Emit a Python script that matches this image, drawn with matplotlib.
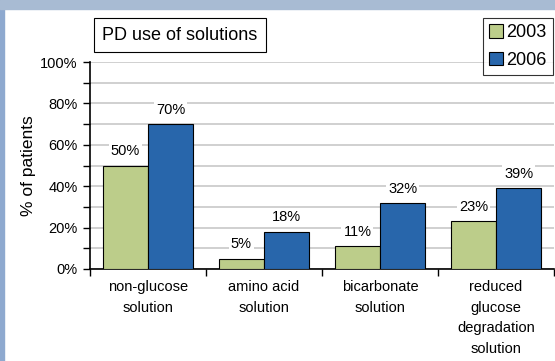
import matplotlib.pyplot as plt
import numpy as np
from matplotlib.patches import Rectangle

categories = ["non-glucose\nsolution", "amino acid\nsolution", "bicarbonate\nsolution",
              "reduced\nglucose\ndegradation\nsolution"]
vals_2003 = [50, 5, 11, 23]
vals_2006 = [70, 18, 32, 39]

green = "#bccd8a"
blue = "#2866ab"

plt.rcParams['font.family'] = ['Liberation Sans', 'DejaVu Sans']

fig = plt.figure(figsize=(5.55, 3.61), dpi=100)
fig.patch.set_facecolor("white")
# bluish frame on the left and top
fig.patches.append(Rectangle((0, 0), 4 / 555, 1, transform=fig.transFigure,
                             color="#8ea9cf", zorder=0))
fig.patches.append(Rectangle((0, 1 - 9 / 361), 1, 9 / 361, transform=fig.transFigure,
                             color="#a8bbd3", zorder=0))

ax = fig.add_axes([90 / 555, 1 - 269 / 361, 464 / 555, 207 / 361])

x = np.arange(len(categories))
w = 0.39
b1 = ax.bar(x - w / 2, vals_2003, w, color=green, edgecolor="black", linewidth=0.8,
            label="2003", zorder=3)
b2 = ax.bar(x + w / 2, vals_2006, w, color=blue, edgecolor="black", linewidth=0.8,
            label="2006", zorder=3)

for bars, vals in ((b1, vals_2003), (b2, vals_2006)):
    for r, v in zip(bars, vals):
        ax.text(r.get_x() + r.get_width() / 2, v + 3.5, f"{v}%", ha="center", va="bottom",
                fontsize=10.5, zorder=4,
                bbox=dict(facecolor="white", edgecolor="none", pad=1.5))

ax.set_xlim(-0.5, len(categories) - 0.5)
ax.set_ylim(0, 100)
ax.set_yticks(range(0, 101, 20))
ax.set_yticklabels([f"{t}%" for t in range(0, 101, 20)], fontsize=10.5)
ax.set_yticks(range(10, 100, 20), minor=True)
ax.grid(axis="y", which="both", color="#c8c8c8", linewidth=1.2, zorder=0)
ax.tick_params(axis="y", which="both", direction="out", length=5, width=1, pad=4)

ax.set_xticks(np.arange(-0.5, len(categories), 1))
ax.set_xticklabels([])
ax.set_xticks(x, minor=True)
ax.set_xticklabels(categories, minor=True, fontsize=10.5, linespacing=1.6)
ax.tick_params(axis="x", which="major", direction="out", length=5, width=1)
ax.tick_params(axis="x", which="minor", length=0, pad=8)

for s in ("top", "right"):
    ax.spines[s].set_visible(False)
for s in ("left", "bottom"):
    ax.spines[s].set_linewidth(1.2)

ax.set_ylabel("% of patients", fontsize=12.5, labelpad=3)

fig.text(180 / 555, 1 - 35 / 361, "PD use of solutions", ha="center", va="center",
         fontsize=13,
         bbox=dict(facecolor="white", edgecolor="black", linewidth=0.8,
                   boxstyle="square,pad=0.45"))

leg = ax.legend(loc="upper right", bbox_to_anchor=(553 / 555, 1 - 18 / 361),
                bbox_transform=fig.transFigure, fontsize=13,
                frameon=True, fancybox=False, edgecolor="black", handlelength=0.75,
                handleheight=0.75, handletextpad=0.2, borderpad=0.35, labelspacing=0.6,
                borderaxespad=0)
leg.get_frame().set_linewidth(0.8)

fig.savefig("out.png", dpi=100)
